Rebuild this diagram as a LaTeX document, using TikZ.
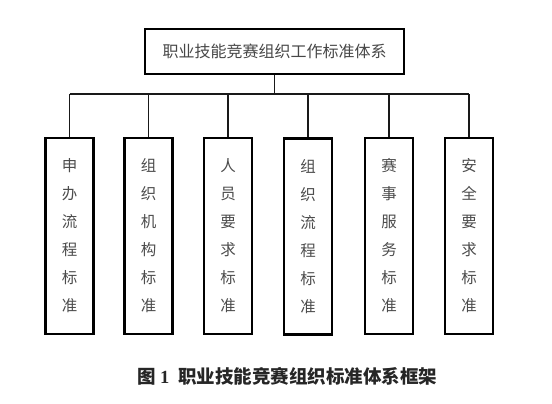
\documentclass[tikz,border=0pt]{standalone}
\usepackage{fontspec}
\setmainfont{Liberation Serif}
\newfontfamily\cjk{Noto Sans CJK SC}
\begin{document}
\begin{tikzpicture}[x=1pt,y=1pt,
  topbox/.style={draw=black,line width=2.2pt,minimum width=259pt,minimum height=45pt,inner sep=0pt,
    font=\cjk\fontsize{16}{20}\selectfont,text=black!72},
  stdbox/.style={draw=black,line width=2.2pt,minimum width=48pt,minimum height=196pt,inner sep=0pt,
    align=center,font=\cjk\fontsize{15.5}{28}\selectfont,text=black!70},
  conn/.style={draw=black!90,line width=1.3pt},
  captext/.style={font=\cjk\bfseries\fontsize{18.5}{20}\selectfont,text=black!85,inner sep=0pt}]
\useasboundingbox (0,0) rectangle (552,-404);
\fill[white] (0,0) rectangle (552,-404);
\node[topbox] (top) at (274.5,-51.5) {职业技能竞赛组织工作标准体系};
\node[stdbox] (b1) at (69.5,-236) {申\\办\\流\\程\\标\\准};
\node[stdbox] (b2) at (148.5,-236) {组\\织\\机\\构\\标\\准};
\node[stdbox] (b3) at (228,-236) {人\\员\\要\\求\\标\\准};
\node[stdbox] (b4) at (308,-236.5) {组\\织\\流\\程\\标\\准};
\node[stdbox] (b5) at (389,-236) {赛\\事\\服\\务\\标\\准};
\node[stdbox] (b6) at (469,-236) {安\\全\\要\\求\\标\\准};
\coordinate (bus) at (0,-94);
\draw[conn] (top.south) -- (top.south |- bus);
\draw[conn] (b1.north |- bus) -- (b6.north |- bus);
\foreach \b in {b1,b2,b3,b4,b5,b6}{
  \draw[conn] (\b.north) -- (\b.north |- bus);
}
\node[captext] (caption) at (287.5,-376) {图\hspace{4pt}{\fontspec{Liberation Serif}\bfseries 1}\hspace{9pt}职业技能竞赛组织标准体系框架};
\end{tikzpicture}
\end{document}
